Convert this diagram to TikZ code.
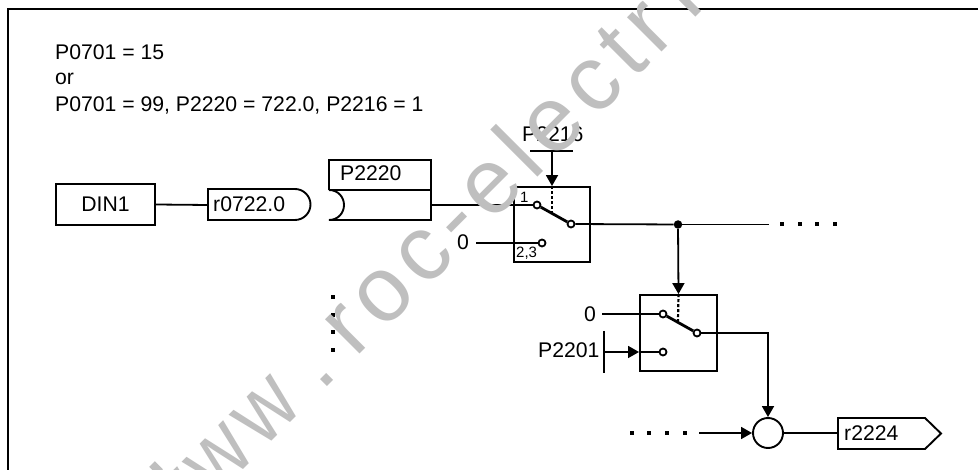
\documentclass[tikz,border=0pt]{standalone}
\usepackage{fontspec}
\setmainfont{Liberation Sans}
\newfontfamily\wmfont[LetterSpace=9]{Liberation Sans}
\usetikzlibrary{arrows.meta}
\tikzset{
  x=1pt,y=-1pt,
  frameline/.style={line width=2.2pt,line cap=rect},
  box/.style={draw,line width=1.9pt,rectangle,inner sep=0pt},
  shapeline/.style={line width=1.9pt},
  wire/.style={line width=1.8pt},
  arrowwire/.style={line width=1.8pt,-{Triangle[length=11pt,width=12pt]}},
  txt/.style={anchor=base west,inner sep=0pt,font=\fontsize{21.2}{25}\selectfont},
  small/.style={anchor=base west,inner sep=0pt,font=\fontsize{15}{18}\selectfont},
  contact/.style={circle,draw,fill=white,line width=1.8pt,inner sep=0pt,minimum size=7pt},
  sumnode/.style={circle,draw,line width=1.9pt,inner sep=0pt,minimum size=30pt},
  junction/.style={circle,fill=black,inner sep=0pt,minimum size=8.5pt},
  dotmark/.style={rectangle,fill=black,inner sep=0pt,minimum size=3.6pt},
  arm/.style={line width=2.8pt},
  linkage/.style={line width=2.2pt,dash pattern=on 3pt off 2pt},
  bar/.style={line width=1.8pt},
  wm/.style={anchor=base west,inner sep=0pt,rotate=45,text=black!25,font=\fontsize{92}{92}\selectfont\wmfont}
}
\begin{document}
\begin{tikzpicture}
\useasboundingbox (0,0) rectangle (978,470);
\clip (0,0) rectangle (978,470);
\fill[white] (0,0) rectangle (978,470);
% frame
\draw[frameline] (8,475) -- (8,9) -- (980,9);
% heading
\node[txt] (h1) at (55,60) {P0701 = 15};
\node[txt] (h2) at (55,85) {or};
\node[txt] (h3) at (55,112) {P0701 = 99, P2220 = 722.0, P2216 = 1};
% DIN1
\node[box,minimum width=99pt,minimum height=41pt,font=\fontsize{21.2}{25}\selectfont] (din) at (105.5,204.5) {DIN1};
% r0722.0
\coordinate (rin) at (208,205);
\draw[shapeline] (208,189) -- (295,189) .. controls (303.5,189) and (310.5,196) .. (310.5,204.5) .. controls (310.5,213) and (303.5,220) .. (295,220) -- (208,220) -- cycle;
\node[txt] (r722) at (213,212) {r0722.0};
\draw[wire] (din.east) -- (rin);
% P2220
\draw[shapeline] (329,190) -- (329,160) -- (431,160) -- (431,220) -- (329,220) .. controls (338,220) and (344,213) .. (344,205) .. controls (344,197) and (338,190) .. (329,190) -- (431,190);
\node[txt] (p2220) at (340,181) {P2220};
\coordinate (pout) at (431,205);
% switch 1
\node[box,minimum width=76pt,minimum height=75pt] (sw1) at (552,224.5) {};
\node[contact] (s1a) at (537,205) {};
\node[contact] (s1b) at (571,224) {};
\node[contact] (s1c) at (542,243) {};
\node[small] (s1one) at (520,203) {1};
\node[small] (s1two) at (516,258) {2,3};
\node[txt] (s1zero) at (457,250) {0};
\coordinate (s1z) at (476,243);
\draw[wire] (pout) -- (s1a);
\draw[wire] (s1z) -- (s1c);
\draw[arm] (s1a) -- (s1b);
\draw[linkage] (sw1.north) -- (552,213);
% P2216
\node[txt] (p2216) at (522,142) {P2216};
\coordinate (b1l) at (530,151);
\coordinate (b1r) at (573,151);
\coordinate (b1m) at (552,151);
\draw[bar] (b1l) -- (b1r);
\draw[arrowwire] (b1m) -- (sw1.north);
% output
\node[junction] (jn) at (678,224.5) {};
\coordinate (oend) at (769,224.5);
\draw[wire] (s1b) -- (jn);
\draw[wire] (jn) -- (oend);
\node[dotmark] (d1) at (782,224) {};
\node[dotmark] (d2) at (800,224) {};
\node[dotmark] (d3) at (817,224) {};
\node[dotmark] (d4) at (835,224) {};
% switch 2
\node[box,minimum width=77pt,minimum height=76pt] (sw2) at (678.5,333) {};
\draw[arrowwire] (jn) -- (sw2.north);
\node[contact] (s2a) at (663,314) {};
\node[contact] (s2b) at (697,333) {};
\node[contact] (s2c) at (663,352) {};
\node[txt] (s2zero) at (584,322) {0};
\coordinate (s2z) at (602,314);
\draw[wire] (s2z) -- (s2a);
\draw[arm] (s2a) -- (s2b);
\draw[linkage] (sw2.north) -- (678,321);
% P2201
\node[txt] (p2201) at (538,358) {P2201};
\coordinate (b2t) at (604,331);
\coordinate (b2b) at (604,373);
\coordinate (b2m) at (604,352);
\coordinate (b2e) at (639,352);
\draw[bar] (b2t) -- (b2b);
\draw[arrowwire] (b2m) -- (b2e);
\draw[wire] (b2e) -- (s2c);
% sum
\node[sumnode] (sum) at (768,433) {};
\draw[arrowwire] (s2b) -| (sum.north);
\node[dotmark] (e1) at (632,433) {};
\node[dotmark] (e2) at (649,433) {};
\node[dotmark] (e3) at (667,433) {};
\node[dotmark] (e4) at (685,433) {};
\coordinate (ein) at (699,433);
\draw[arrowwire] (ein) -- (sum.west);
% r2224
\draw[shapeline] (838,418) -- (925,418) -- (941,433.5) -- (925,449) -- (838,449) -- cycle;
\coordinate (rout) at (838,433);
\node[txt] (r2224) at (844,440) {r2224};
\draw[wire] (sum.east) -- (rout);
% vertical dots
\node[dotmark] (v1) at (333,297) {};
\node[dotmark] (v2) at (333,315) {};
\node[dotmark] (v3) at (333,332) {};
\node[dotmark] (v4) at (333,350) {};
% watermark
\node[wm] (wm1) at (170,543) {\scalebox{.88}[1]{www}};
\node[wm] (wm2) at (321,393) {.};
\node[wm] (wm3) at (355.5,359) {roc-electr};
\node[wm] (wm4) at (691,22) {i};
\draw[black!25,line width=8pt] (152,464) -- (160,472);
\end{tikzpicture}
\end{document}
